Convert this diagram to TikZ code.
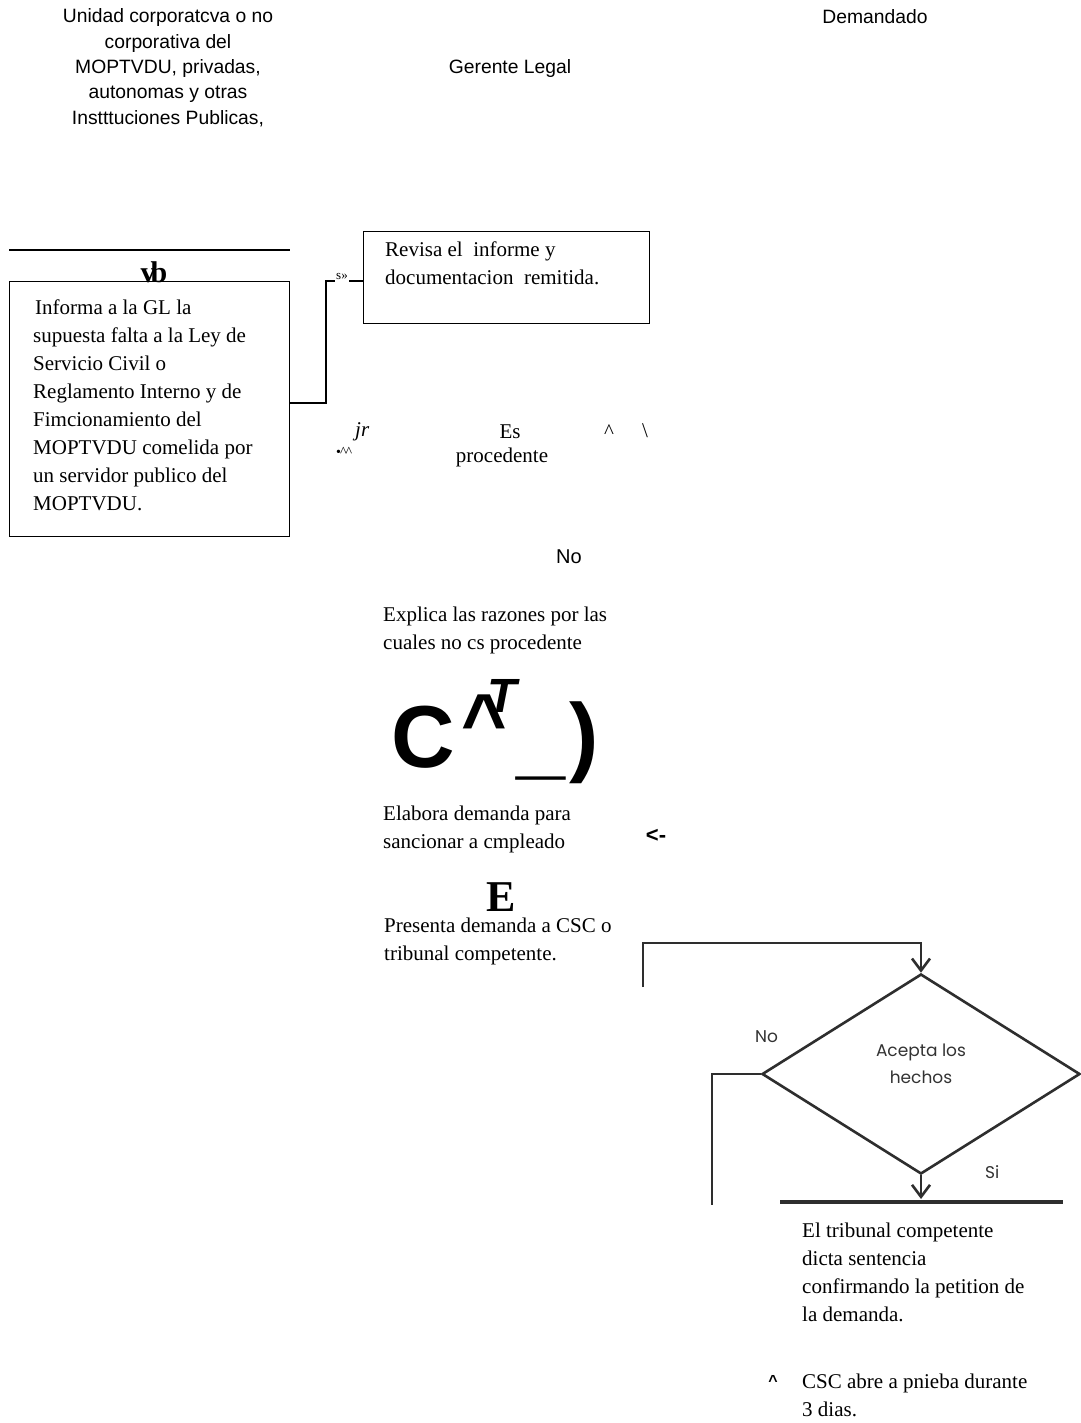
\documentclass[tikz,border=0pt]{standalone}
\usepackage{fontspec}
\setmainfont{Liberation Serif}
\newfontfamily\arial{Liberation Sans}
\newfontfamily\gothic{Poppins}
\usetikzlibrary{shapes.geometric,arrows.meta}

% stacked lines whose baseline is the baseline of the first line
\newcommand\leftlines[1]{\vtop{\let\\\cr\halign{##\hfil\cr#1\crcr}}}
\newcommand\centerlines[1]{\vtop{\let\\\cr\halign{\hfil##\hfil\cr#1\crcr}}}

\begin{document}
\begin{tikzpicture}[
  x=1pt, y=-1pt,
  txt/.style={inner sep=0, font=\fontsize{21}{28}\selectfont},
  lt/.style={txt, anchor=base west},
  sans/.style={inner sep=0, anchor=base, font=\arial\fontsize{19.3}{25.3}\selectfont},
  stepbox/.style={draw, line width=1.3, inner sep=0, anchor=north west},
  link/.style={line width=1.3},
  scan/.style={draw=black!82, line width=2.6},
  barb/.style={-{Straight Barb[length=12pt,width=18pt]}},
  scantxt/.style={inner sep=0, text=black!80, font=\gothic\fontsize{17}{27}\selectfont},
  big/.style={inner sep=0, font=\arial\bfseries\fontsize{88}{88}\selectfont}
]
\fill[white] (0,0) rectangle (1080,1423);
\useasboundingbox (0,0) rectangle (1080,1423);

% lane headings
\node[sans] (lane1) at (168,23) {\centerlines{Unidad corporatcva o no\\corporativa del\\MOPTVDU, privadas,\\autonomas y otras\\Instttuciones Publicas,}};
\node[sans] (lane2) at (510,74) {Gerente Legal};
\node[sans] (lane3) at (875,24) {Demandado};

% first activity
\draw[link] (9,250) -- (290,250);
\node[inner sep=0, anchor=base, font=\bfseries\fontsize{30}{30}\selectfont] (vb) at (154,282) {v\kern-5pt b};
\node[stepbox, minimum width=280, minimum height=255] (inf) at (9,281) {};
\node[lt] (inftxt) at (33,314) {\leftlines{\hskip2pt Informa a la GL la\\supuesta falta a la Ley de\\Servicio Civil o\\Reglamento Interno y de\\Fimcionamiento del\\MOPTVDU comelida por\\un servidor publico del\\MOPTVDU.}};

% review by the legal manager
\node[stepbox, minimum width=286, minimum height=92] (rev) at (363,231) {};
\node[lt] (revtxt) at (385,257) {\leftlines{Revisa el\ \ informe y\\documentacion\ \ remitida.}};

\coordinate (j1) at (326,403);
\coordinate (j2) at (326,281);
\draw[link] (inf.east |- j1) -- (j1) -- (j2) -- (rev.west |- j2);
\node[inner sep=1, inner ysep=2.5, fill=white, anchor=base west, font=\fontsize{13}{13}\selectfont] (slbl) at (335,279) {s»};

% decision text
\node[lt, font=\itshape\fontsize{21}{28}\selectfont] (jr) at (355,436) {jr};
\node[inner sep=0, anchor=west, font=\fontsize{14}{14}\selectfont] (dots) at (336,452) {•\kern-1pt\^{}\kern-1pt\^{}};
\node[txt, anchor=base] (es) at (510,438) {Es};
\node[txt, anchor=base] (proc) at (502,462) {procedente};
\node[txt] (hat) at (609,432) {\^{}};
\node[txt] (bsl) at (645,431) {\textbackslash};

\node[inner sep=0, anchor=base, font=\arial\fontsize{20}{20}\selectfont] (no1) at (569,563) {No};
\node[lt] (expl) at (383,621) {\leftlines{Explica las razones por las\\cuales no cs procedente}};

% terminator glyphs
\node[big] (bc) at (423,737) {C};
\node[big, font=\arial\bfseries\fontsize{78}{78}\selectfont] (bhat) at (484,722) {\^{}};
\node[inner sep=0, font=\arial\bfseries\itshape\fontsize{48}{48}\selectfont] (bt) at (502,696) {T};
\node[big] (bus) at (541,775) {\_};
\node[big] (bpar) at (584,743) {)};

\node[lt] (elab) at (383,820) {\leftlines{Elabora demanda para\\sancionar a cmpleado}};
\node[inner sep=0, font=\arial\bfseries\fontsize{22}{22}\selectfont] (larr) at (656,836) {<-};

\node[inner sep=0, font=\bfseries\fontsize{44}{44}\selectfont] (be) at (501,897) {E};
\node[lt] (pres) at (384,932) {\leftlines{Presenta demanda a CSC o\\tribunal competente.}};

% scanned decision of the defendant
\node[draw=black!82, line width=2.6, diamond, inner sep=0, minimum width=318, minimum height=200] (dia) at (921,1074) {};
\node[scantxt, anchor=base] (diatxt) at (921,1056) {\centerlines{Acepta los\\hechos}};
\coordinate (t0) at (643,987);
\coordinate (t1) at (643,943);
\draw[scan, barb] (t0) -- (t1) -- (dia.north |- t1) -- (dia.north);
\coordinate (b0) at (921,1199);
\draw[scan, barb] (dia.south) -- (b0);
\coordinate (bl) at (780,1202);
\coordinate (br) at (1063,1202);
\draw[draw=black!82, line width=3.4] (bl) -- (br);
\coordinate (l1) at (712,1205);
\draw[scan, line width=2.2] (dia.west) -| (l1);
\node[scantxt, anchor=base west] (no2) at (755,1042) {No};
\node[scantxt, anchor=base west] (si) at (985,1178) {Si};

% closing activities
\node[lt] (trib) at (802,1237) {\leftlines{El tribunal competente\\dicta sentencia\\confirmando la petition de\\la demanda.}};
\node[inner sep=0, font=\arial\bfseries\fontsize{16}{16}\selectfont] (hat2) at (773,1381) {\^{}};
\node[lt] (csc) at (802,1388) {\leftlines{CSC abre a pnieba durante\\3 dias.}};
\end{tikzpicture}
\end{document}
